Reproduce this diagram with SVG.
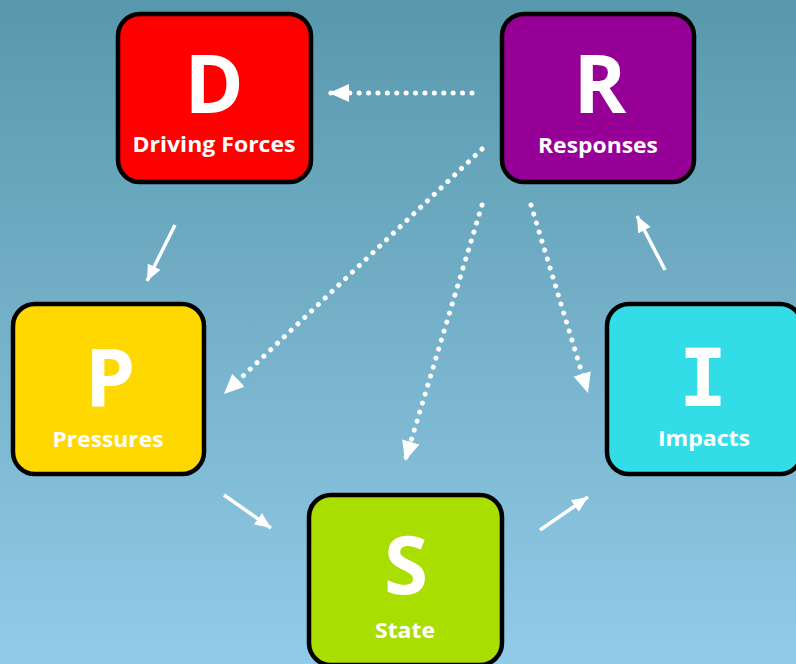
<svg xmlns="http://www.w3.org/2000/svg" width="796" height="664" viewBox="0 0 796 664">
<defs>
<linearGradient id="bg" x1="0" y1="0" x2="0" y2="1">
<stop offset="0" stop-color="#5898ac"/>
<stop offset="1" stop-color="#92cbe8"/>
</linearGradient>
<marker id="hd" markerUnits="userSpaceOnUse" markerWidth="24" markerHeight="20" refX="20" refY="9" orient="auto">
<path d="M0,0 L20,9 L0,18 Z" fill="#ffffff"/>
</marker>
<marker id="hs" markerUnits="userSpaceOnUse" markerWidth="20" markerHeight="16" refX="16" refY="7" orient="auto">
<path d="M0,0 L16,7 L0,14 Z" fill="#ffffff"/>
</marker>
</defs>
<style>
.box{stroke:#000;stroke-width:4.5}
.big{font-family:"Open Sans","DejaVu Sans",sans-serif;font-weight:bold;font-size:80px;fill:#fff;text-anchor:middle}
.bigI{font-family:"DejaVu Sans Mono",monospace;font-weight:bold;font-size:80px;fill:#fff;text-anchor:middle}
.lbl{font-family:"Open Sans","DejaVu Sans",sans-serif;font-weight:bold;font-size:21px;fill:#fff;text-anchor:middle}
.dot{fill:none;stroke:#fff;stroke-width:5;stroke-linecap:round;stroke-dasharray:0.1 9.3;marker-end:url(#hd)}
.sol{fill:none;stroke:#fff;stroke-width:3.5;marker-end:url(#hs)}
</style>
<rect x="0" y="0" width="796" height="664" fill="url(#bg)"/>
<g id="connectors">
<line class="dot" x1="472" y1="93" x2="329" y2="93"/>
<line class="dot" x1="482" y1="149" x2="224" y2="394"/>
<line class="dot" x1="482" y1="205" x2="405" y2="461"/>
<line class="dot" x1="531" y1="205" x2="588" y2="393"/>
<line class="sol" x1="175" y1="225" x2="147" y2="281"/>
<line class="sol" x1="665" y1="270" x2="637" y2="216"/>
<line class="sol" x1="224" y1="495" x2="271" y2="528"/>
<line class="sol" x1="540" y1="530" x2="588" y2="497"/>
</g>
<g id="node-D">
<rect class="box" x="118" y="14" width="193" height="168" rx="22" fill="#ff0000"/>
<text class="big" x="214" y="113">D</text>
<text class="lbl" x="214" y="152" textLength="163" lengthAdjust="spacingAndGlyphs">Driving Forces</text>
</g>
<g id="node-R">
<rect class="box" x="502" y="14" width="192" height="168" rx="22" fill="#960096"/>
<text class="big" x="600" y="113">R</text>
<text class="lbl" x="598" y="153" textLength="120" lengthAdjust="spacingAndGlyphs">Responses</text>
</g>
<g id="node-P">
<rect class="box" x="13" y="304" width="191" height="170" rx="22" fill="#ffd800"/>
<text class="big" x="110" y="407">P</text>
<text class="lbl" x="108" y="447" textLength="111" lengthAdjust="spacingAndGlyphs">Pressures</text>
</g>
<g id="node-I">
<rect class="box" x="607" y="304" width="195" height="170" rx="22" fill="#33dde8"/>
<text class="bigI" x="703" y="406">I</text>
<text class="lbl" x="704" y="446" textLength="92" lengthAdjust="spacingAndGlyphs">Impacts</text>
</g>
<g id="node-S">
<rect class="box" x="309" y="495" width="193" height="170" rx="22" fill="#aadd00"/>
<text class="big" x="406" y="594" font-size="76">S</text>
<text class="lbl" x="405" y="638" textLength="60" lengthAdjust="spacingAndGlyphs">State</text>
</g>
</svg>
